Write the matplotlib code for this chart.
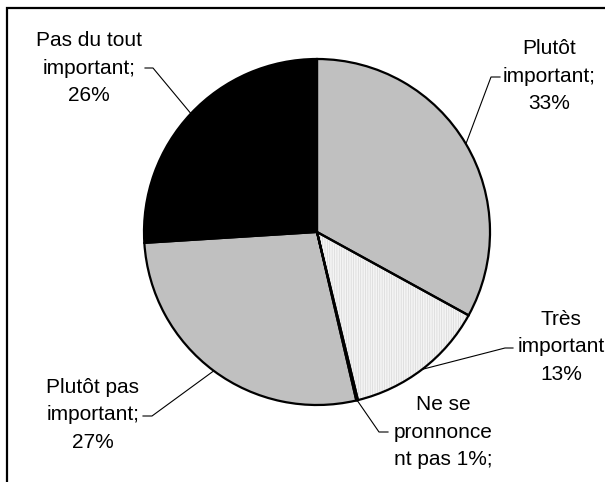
import numpy as np
import matplotlib
matplotlib.use("Agg")
import matplotlib.pyplot as plt
from matplotlib.patches import Wedge

# ---- data ----
labels = ["Plutôt\nimportant;\n33%", "Très\nimportant\n13%", "Ne se\npronnonce\nnt pas 1%;",
          "Plutôt pas\nimportant;\n27%", "Pas du tout\nimportant;\n26%"]
values = [33, 13.2, 0.15, 27.65, 26]
colors = ["#c0c0c0", "#f4f4f4", "#c0c0c0", "#c0c0c0", "#000000"]
hatches = [None, "|||||||", None, None, None]

# ---- layout (pixel-like coords, y up) ----
W, H = 605, 482
center = (317, 482 - 232)
radius = 173
text_pos = [(549, 482 - 76), (561, 482 - 347), (443, 482 - 432), (93, 482 - 415), (89, 482 - 68)]
elbow = [(491, 482 - 77), (505, 482 - 348), (379, 482 - 432), (152, 482 - 416), (153, 482 - 68)]
tick_end = [(500, 482 - 77), (513, 482 - 348), (388, 482 - 432), (143, 482 - 416), (145, 482 - 68)]

plt.rcParams["hatch.linewidth"] = 0.5

fig = plt.figure(figsize=(W / 100, H / 100), dpi=100)
ax = fig.add_axes([0, 0, 1, 1])

wedges, _ = ax.pie(values, colors=colors, startangle=90, counterclock=False,
                   center=center, radius=radius,
                   wedgeprops=dict(edgecolor="none", linewidth=0))
for w, h in zip(wedges, hatches):
    if h:
        ax.add_patch(Wedge(w.center, w.r, w.theta1, w.theta2, facecolor="none",
                           edgecolor="#d8d8d8", hatch=h, linewidth=0, zorder=w.get_zorder() + 0.1))
for w in wedges:
    ax.add_patch(Wedge(w.center, w.r, w.theta1, w.theta2, facecolor="none",
                       edgecolor="black", linewidth=1.6, zorder=w.get_zorder() + 0.2))

ax.set_xlim(0, W)
ax.set_ylim(0, H)
ax.set_aspect("equal")
ax.axis("off")

font = dict(family=["Liberation Sans", "DejaVu Sans"], fontsize=15)
for w, lab, tp, el, te in zip(wedges, labels, text_pos, elbow, tick_end):
    mid = np.deg2rad((w.theta1 + w.theta2) / 2)
    ax_pt = (center[0] + radius * np.cos(mid), center[1] + radius * np.sin(mid))
    ax.plot([ax_pt[0], el[0], te[0]], [ax_pt[1], el[1], te[1]], color="black", lw=0.8)
    ax.text(tp[0], tp[1], lab, ha="center", va="center", linespacing=1.58, **font)

# frame (partially visible)
ax.plot([7, 7, W + 5], [-5, 482 - 8, 482 - 8], color="black", lw=1.6, solid_joinstyle="miter")

fig.savefig("out.png", dpi=100)
